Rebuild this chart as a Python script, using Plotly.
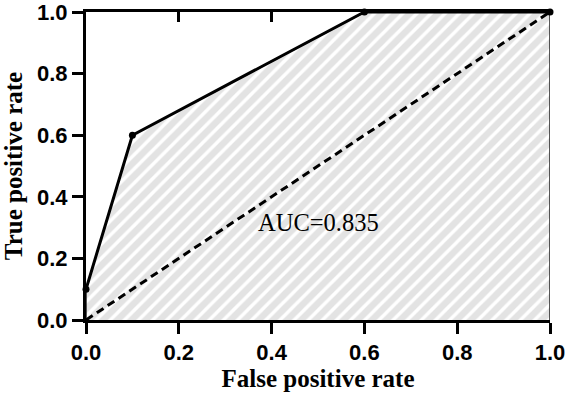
import plotly.graph_objects as go

# Data
fpr = [0.0, 0.1, 0.6, 1.0]
tpr = [0.1, 0.6, 1.0, 1.0]
diag_x = [0.0, 1.0]
diag_y = [0.0, 1.0]
auc_label = "AUC=0.835"
ticks = [0.0, 0.2, 0.4, 0.6, 0.8, 1.0]
tick_text = ["0.0", "0.2", "0.4", "0.6", "0.8", "1.0"]

poly_x = [fpr[0]] + fpr + [fpr[-1]]
poly_y = [0.0] + tpr + [0.0]

fig = go.Figure()
fig.add_trace(go.Scatter(
    x=poly_x, y=poly_y, mode="lines", fill="toself",
    fillcolor="white",
    fillpattern=dict(shape="/", fgcolor="#c8c8c8", bgcolor="white", size=10, solidity=0.66),
    line=dict(color="#222", width=1.5), hoverinfo="skip", showlegend=False))
fig.add_trace(go.Scatter(
    x=diag_x, y=diag_y, mode="lines",
    line=dict(color="black", width=3, dash="8px,5px"), showlegend=False))
fig.add_trace(go.Scatter(
    x=fpr, y=tpr, mode="lines+markers",
    line=dict(color="black", width=3), marker=dict(color="black", size=7),
    showlegend=False, cliponaxis=False))
# invisible trace on top axis
fig.add_trace(go.Scatter(x=[0, 1], y=[0, 0], xaxis="x2", mode="lines",
                         line=dict(width=0), showlegend=False, hoverinfo="skip"))

fig.add_annotation(x=0.5, y=0.316, text=auc_label, showarrow=False,
                   font=dict(family="Liberation Serif", size=24.5, color="black"))

tickfont = dict(family="Liberation Sans", size=22, color="black", weight="bold")
titlefont = dict(family="Liberation Serif", size=25, color="black", weight="bold")

fig.update_layout(
    width=567, height=396,
    margin=dict(l=86, r=17, t=12, b=76),
    plot_bgcolor="white", paper_bgcolor="white",
    xaxis=dict(range=[0, 1], tickvals=ticks, ticktext=tick_text, ticks="outside",
               ticklen=11, tickwidth=3, tickcolor="black", showline=True,
               linewidth=3, linecolor="black", showgrid=False, zeroline=False,
               automargin=False, ticklabeloverflow="allow",
               tickfont=tickfont, title=dict(text="False positive rate", font=titlefont, standoff=4)),
    yaxis=dict(range=[0, 1], tickvals=ticks, ticktext=tick_text, ticks="outside",
               ticklen=11, tickwidth=3, tickcolor="black", showline=True,
               linewidth=3, linecolor="black", showgrid=False, zeroline=False,
               automargin=False, ticklabeloverflow="allow",
               tickfont=tickfont, title=dict(text="True positive rate", font=titlefont, standoff=12)),
    xaxis2=dict(range=[0, 1], overlaying="x", side="top", tickvals=ticks,
                ticks="inside", ticklen=10, tickwidth=3, tickcolor="black",
                showticklabels=False, showline=True, linewidth=3, linecolor="black",
                showgrid=False, zeroline=False, layer="below traces", automargin=False),
)

fig.write_html("out.html", config={"displayModeBar": False},
               post_script="document.body.style.margin='0px';")
